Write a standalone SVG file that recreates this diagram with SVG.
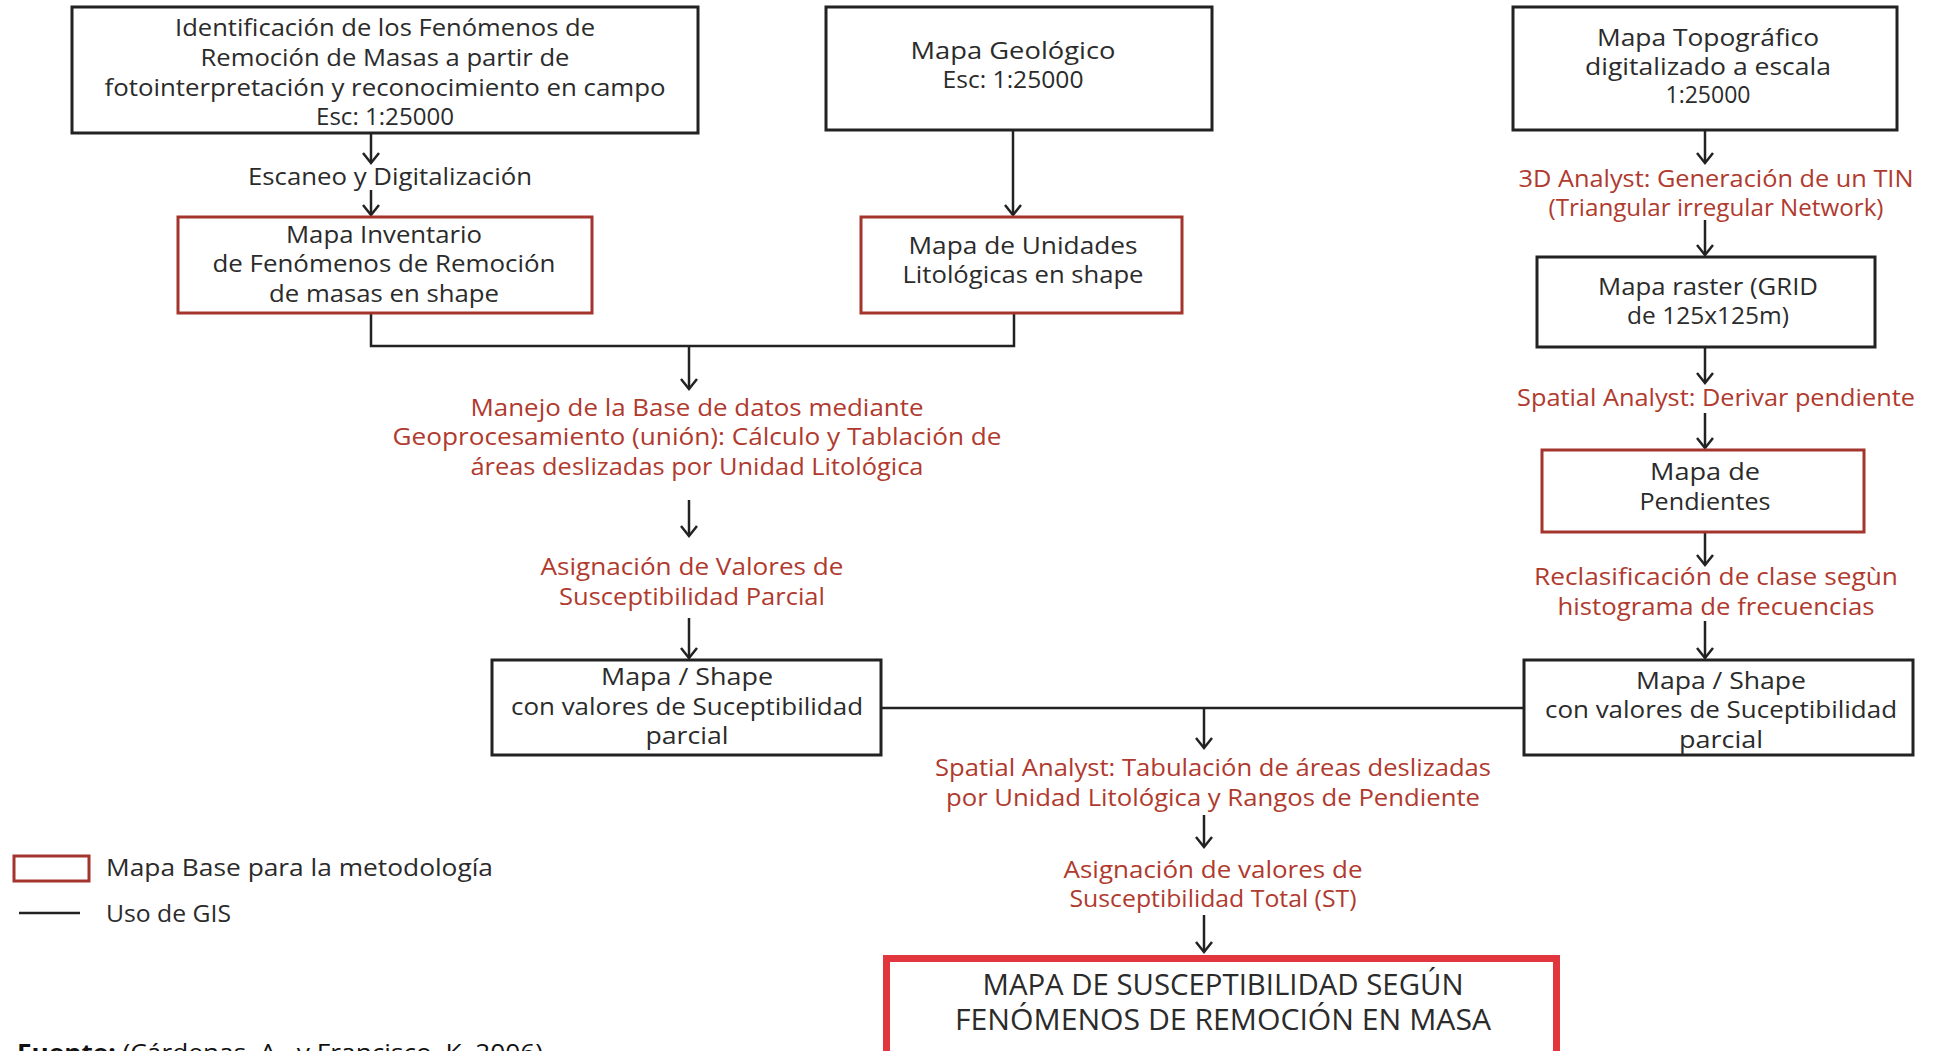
<svg xmlns="http://www.w3.org/2000/svg" width="1937" height="1051" viewBox="0 0 1937 1051">
<style>
text{font-family:"Open Sans","Liberation Sans",sans-serif;font-size:23px;text-anchor:middle}
.k{fill:#2b2b2b}
.r{fill:#b03a2e}
.bk{fill:#fff;stroke:#222;stroke-width:3}
.br{fill:#fff;stroke:#a3352d;stroke-width:3}
.bf{fill:#fff;stroke:#e1363d;stroke-width:7}
.c{fill:none;stroke:#222;stroke-width:2.5}
.big{font-size:30px}
.l{text-anchor:start}
</style>
<defs>
<marker id="a" viewBox="-11 -9 13 18" refX="0" refY="0" markerWidth="13" markerHeight="18" orient="auto" markerUnits="userSpaceOnUse">
<path d="M-10,-8 L0,0 L-10,8" fill="none" stroke="#222" stroke-width="2.5"/>
</marker>
</defs>
<rect x="0" y="0" width="1937" height="1051" fill="#fff"/>

<g id="connectors">
<path class="c" d="M371,133 V163" marker-end="url(#a)"/>
<path class="c" d="M371,190 V215" marker-end="url(#a)"/>
<path class="c" d="M1013,130 V215" marker-end="url(#a)"/>
<path class="c" d="M371,313 V346 H1014 V313"/>
<path class="c" d="M689,346 V389" marker-end="url(#a)"/>
<path class="c" d="M689,500 V536" marker-end="url(#a)"/>
<path class="c" d="M689,618 V658" marker-end="url(#a)"/>
<path class="c" d="M881,708 H1524"/>
<path class="c" d="M1204,708 V748" marker-end="url(#a)"/>
<path class="c" d="M1204,815 V847" marker-end="url(#a)"/>
<path class="c" d="M1204,915 V952" marker-end="url(#a)"/>
<path class="c" d="M1705,130 V163" marker-end="url(#a)"/>
<path class="c" d="M1705,220 V255" marker-end="url(#a)"/>
<path class="c" d="M1705,347 V383" marker-end="url(#a)"/>
<path class="c" d="M1705,413 V448" marker-end="url(#a)"/>
<path class="c" d="M1705,532 V565" marker-end="url(#a)"/>
<path class="c" d="M1705,621 V658" marker-end="url(#a)"/>
</g>

<g id="n-identificacion">
<rect class="bk" x="72" y="7" width="626" height="126"/>
<text class="k" x="385" y="36" textLength="420" lengthAdjust="spacingAndGlyphs">Identificación de los Fenómenos de</text>
<text class="k" x="385" y="66" textLength="369" lengthAdjust="spacingAndGlyphs">Remoción de Masas a partir de</text>
<text class="k" x="385" y="96" textLength="561" lengthAdjust="spacingAndGlyphs">fotointerpretación y reconocimiento en campo</text>
<text class="k" x="385" y="125" textLength="138" lengthAdjust="spacingAndGlyphs">Esc: 1:25000</text>
</g>

<g id="l-escaneo">
<text class="k" x="390" y="185" textLength="284" lengthAdjust="spacingAndGlyphs">Escaneo y Digitalización</text>
</g>

<g id="n-inventario">
<rect class="br" x="178" y="217" width="414" height="96"/>
<text class="k" x="384" y="243" textLength="196" lengthAdjust="spacingAndGlyphs">Mapa Inventario</text>
<text class="k" x="384" y="272" textLength="343" lengthAdjust="spacingAndGlyphs">de Fenómenos de Remoción</text>
<text class="k" x="384" y="302" textLength="230" lengthAdjust="spacingAndGlyphs">de masas en shape</text>
</g>

<g id="n-geologico">
<rect class="bk" x="826" y="7" width="386" height="123"/>
<text class="k" x="1013" y="59" textLength="205" lengthAdjust="spacingAndGlyphs">Mapa Geológico</text>
<text class="k" x="1013" y="88" textLength="141" lengthAdjust="spacingAndGlyphs">Esc: 1:25000</text>
</g>

<g id="n-litologicas">
<rect class="br" x="861" y="217" width="321" height="96"/>
<text class="k" x="1023" y="254" textLength="229" lengthAdjust="spacingAndGlyphs">Mapa de Unidades</text>
<text class="k" x="1023" y="283" textLength="241" lengthAdjust="spacingAndGlyphs">Litológicas en shape</text>
</g>

<g id="s-manejo">
<text class="r" x="697" y="416" textLength="453" lengthAdjust="spacingAndGlyphs">Manejo de la Base de datos mediante</text>
<text class="r" x="697" y="445" textLength="609" lengthAdjust="spacingAndGlyphs">Geoprocesamiento (unión): Cálculo y Tablación de</text>
<text class="r" x="697" y="475" textLength="453" lengthAdjust="spacingAndGlyphs">áreas deslizadas por Unidad Litológica</text>
</g>

<g id="s-asignacion-parcial">
<text class="r" x="692" y="575" textLength="303" lengthAdjust="spacingAndGlyphs">Asignación de Valores de</text>
<text class="r" x="692" y="605" textLength="266" lengthAdjust="spacingAndGlyphs">Susceptibilidad Parcial</text>
</g>

<g id="n-shape-izq">
<rect class="bk" x="492" y="660" width="389" height="95"/>
<text class="k" x="687" y="685" textLength="172" lengthAdjust="spacingAndGlyphs">Mapa / Shape</text>
<text class="k" x="687" y="715" textLength="352" lengthAdjust="spacingAndGlyphs">con valores de Suceptibilidad</text>
<text class="k" x="687" y="744" textLength="83" lengthAdjust="spacingAndGlyphs">parcial</text>
</g>

<g id="n-shape-der">
<rect class="bk" x="1524" y="660" width="389" height="95"/>
<text class="k" x="1721" y="689" textLength="170" lengthAdjust="spacingAndGlyphs">Mapa / Shape</text>
<text class="k" x="1721" y="718" textLength="352" lengthAdjust="spacingAndGlyphs">con valores de Suceptibilidad</text>
<text class="k" x="1721" y="748" textLength="84" lengthAdjust="spacingAndGlyphs">parcial</text>
</g>

<g id="s-tabulacion">
<text class="r" x="1213" y="776" textLength="556" lengthAdjust="spacingAndGlyphs">Spatial Analyst: Tabulación de áreas deslizadas</text>
<text class="r" x="1213" y="806" textLength="534" lengthAdjust="spacingAndGlyphs">por Unidad Litológica y Rangos de Pendiente</text>
</g>

<g id="s-asignacion-total">
<text class="r" x="1213" y="878" textLength="299" lengthAdjust="spacingAndGlyphs">Asignación de valores de</text>
<text class="r" x="1213" y="907" textLength="287" lengthAdjust="spacingAndGlyphs">Susceptibilidad Total (ST)</text>
</g>

<g id="n-final">
<rect class="bf" x="886.5" y="958.5" width="670" height="100"/>
<text class="k big" x="1223" y="995" textLength="481" lengthAdjust="spacingAndGlyphs">MAPA DE SUSCEPTIBILIDAD SEGÚN</text>
<text class="k big" x="1223" y="1030" textLength="536" lengthAdjust="spacingAndGlyphs">FENÓMENOS DE REMOCIÓN EN MASA</text>
</g>

<g id="n-topografico">
<rect class="bk" x="1513" y="7" width="384" height="123"/>
<text class="k" x="1708" y="46" textLength="222" lengthAdjust="spacingAndGlyphs">Mapa Topográfico</text>
<text class="k" x="1708" y="75" textLength="246" lengthAdjust="spacingAndGlyphs">digitalizado a escala</text>
<text class="k" x="1708" y="103" textLength="85" lengthAdjust="spacingAndGlyphs">1:25000</text>
</g>

<g id="s-tin">
<text class="r" x="1716" y="187" textLength="395" lengthAdjust="spacingAndGlyphs">3D Analyst: Generación de un TIN</text>
<text class="r" x="1716" y="216" textLength="335" lengthAdjust="spacingAndGlyphs">(Triangular irregular Network)</text>
</g>

<g id="n-raster">
<rect class="bk" x="1537" y="257" width="338" height="90"/>
<text class="k" x="1708" y="295" textLength="220" lengthAdjust="spacingAndGlyphs">Mapa raster (GRID</text>
<text class="k" x="1708" y="324" textLength="162" lengthAdjust="spacingAndGlyphs">de 125x125m)</text>
</g>

<g id="s-pendiente">
<text class="r" x="1716" y="406" textLength="398" lengthAdjust="spacingAndGlyphs">Spatial Analyst: Derivar pendiente</text>
</g>

<g id="n-pendientes">
<rect class="br" x="1542" y="450" width="322" height="82"/>
<text class="k" x="1705" y="480" textLength="110" lengthAdjust="spacingAndGlyphs">Mapa de</text>
<text class="k" x="1705" y="510" textLength="131" lengthAdjust="spacingAndGlyphs">Pendientes</text>
</g>

<g id="s-reclasificacion">
<text class="r" x="1716" y="585" textLength="364" lengthAdjust="spacingAndGlyphs">Reclasificación de clase segùn</text>
<text class="r" x="1716" y="615" textLength="317" lengthAdjust="spacingAndGlyphs">histograma de frecuencias</text>
</g>

<g id="legend">
<rect class="br" x="14" y="856" width="75" height="25"/>
<text class="k l" x="106" y="876" textLength="387" lengthAdjust="spacingAndGlyphs">Mapa Base para la metodología</text>
<line x1="19" y1="913" x2="80" y2="913" stroke="#222" stroke-width="2.5"/>
<text class="k l" x="106" y="922" textLength="125" lengthAdjust="spacingAndGlyphs">Uso de GIS</text>
</g>

<g id="fuente">
<text class="l" x="17" y="1061" fill="#111" textLength="526" lengthAdjust="spacingAndGlyphs"><tspan font-weight="bold">Fuente:</tspan> (Cárdenas, A., y Francisco, K. 2006)</text>
</g>
</svg>
